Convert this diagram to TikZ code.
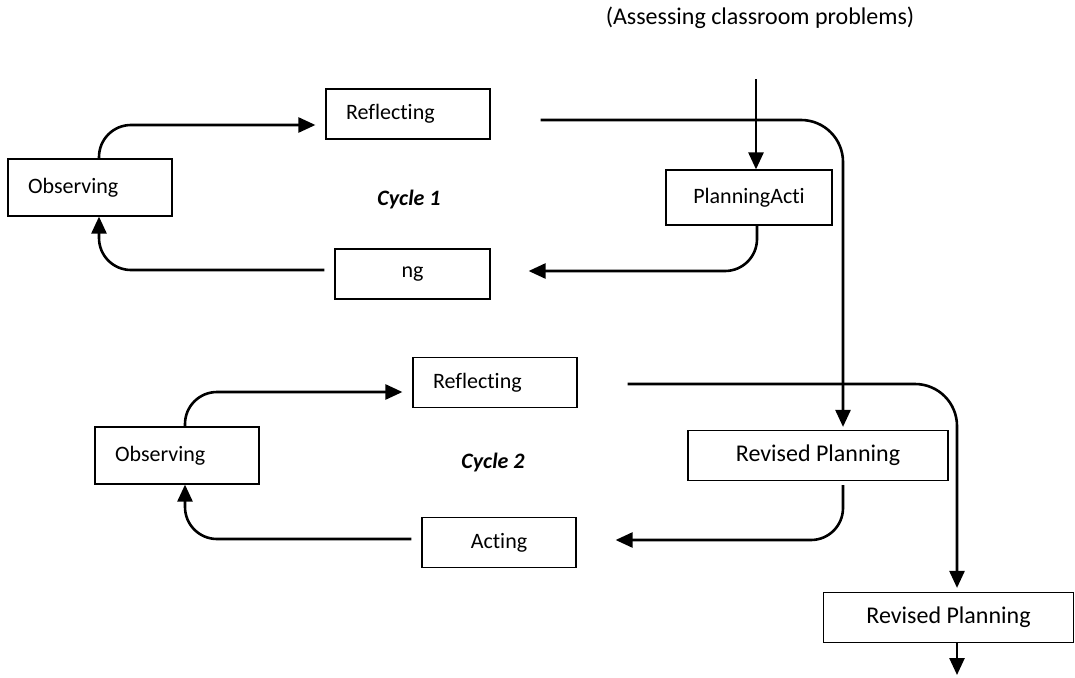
\documentclass[tikz,border=0pt]{standalone}
\usepackage{fontspec}
\setmainfont{Carlito}[Ligatures={NoCommon}]
\usetikzlibrary{arrows.meta}

\begin{document}
\begin{tikzpicture}[x=1pt,y=-1pt,
    box/.style={draw,line width=1.2pt,minimum height=50pt,inner sep=0pt,font=\fontsize{22}{26}\selectfont},
    lbox/.style={box,text width=124pt,align=left,inner xsep=20pt},
    big/.style={font=\fontsize{24}{28}\selectfont},
    flow/.style={line width=2.6pt,-{Triangle[length=17pt,width=15pt]},rounded corners=32pt},
    cyc/.style={font=\fontsize{22}{26}\selectfont\bfseries\itshape}]
    \useasboundingbox (0,0) rectangle (1075,677);

    % top
    \node[big] (title) at (760,18) {(Assessing classroom problems)};
    \coordinate (inTop) at (756,79);

    % cycle 1
    \node[lbox,minimum height=57pt] (obsA) at (90,187.5) {Observing};
    \node[lbox] (reflA) at (408,114) {Reflecting};
    \node[box,minimum width=155pt] (ngA) at (412.5,274) {ng};
    \node[box,minimum width=166pt,minimum height=55pt] (planA) at (749,197.5) {PlanningActi};
    \node[cyc] (cycA) at (409,200) {Cycle 1};

    %cycle 1 - arrows
    \draw[flow] (inTop) -- (inTop |- planA.north);
    \draw[flow] ([xshift=9pt]obsA.north) |- ([xshift=-10pt,yshift=-11pt]reflA.west);
    \draw[flow] ([xshift=8pt]planA.south) |- ([xshift=38pt,yshift=3pt]ngA.east);
    \draw[flow] ([xshift=-10pt,yshift=4pt]ngA.west) -| ([xshift=9pt]obsA.south);

    % cycle 2
    \node[lbox,minimum height=57pt] (obsB) at (177,455.5) {Observing};
    \node[lbox] (reflB) at (495,382.5) {Reflecting};
    \node[box,minimum width=154pt] (actB) at (499,542.5) {Acting};
    \node[box,big,minimum width=260pt] (revB) at (818,455.5) {Revised Planning};
    \node[cyc] (cycB) at (493,463) {Cycle 2};

    %cycle 1 to cycle 2
    \draw[flow,rounded corners=42pt,shorten >=3pt] ([xshift=50pt,yshift=-6pt]reflA.east) -| ([xshift=25pt]revB.north);

    %cycle 2 - arrows
    \draw[flow] ([xshift=8pt]obsB.north) |- ([xshift=-10pt,yshift=-9.5pt]reflB.west);
    \draw[flow] ([xshift=25pt,yshift=-4pt]revB.south) |- ([xshift=39pt,yshift=2.5pt]actB.east);
    \draw[flow] ([xshift=-10pt,yshift=3.5pt]actB.west) -| ([xshift=8pt]obsB.south);

    % next
    \node[box,big,minimum width=250pt] (revC) at (948.5,617.5) {Revised Planning};
    \coordinate (outEnd) at (957,675);
    \draw[flow,rounded corners=42pt,shorten >=4pt] ([xshift=50pt,yshift=-1.5pt]reflB.east) -| ([xshift=8.5pt]revC.north);
    \draw[flow] (revC.south -| outEnd) -- (outEnd);
\end{tikzpicture}
\end{document}
